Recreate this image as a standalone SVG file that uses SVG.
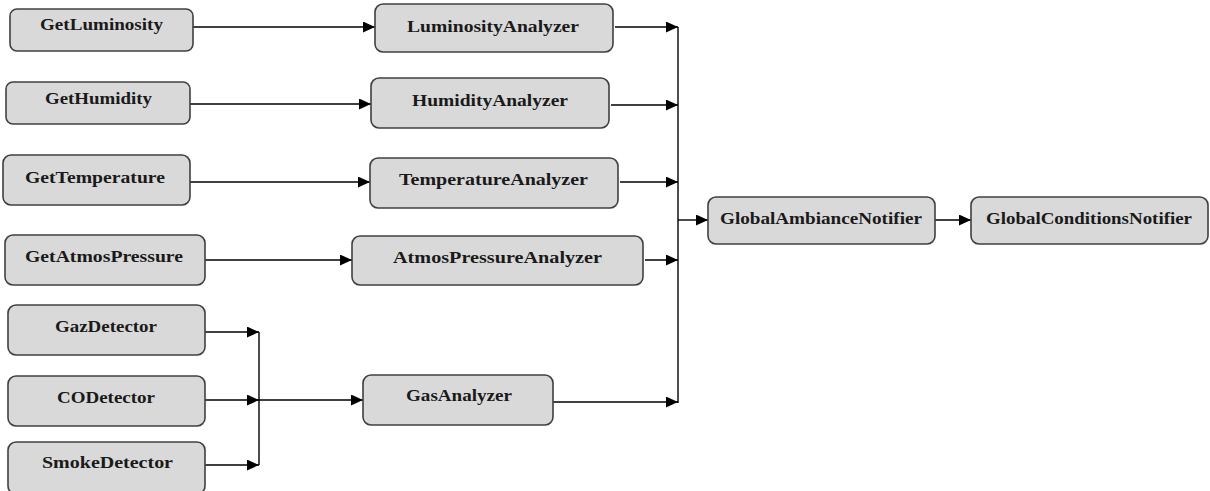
<svg xmlns="http://www.w3.org/2000/svg" width="1210" height="491" viewBox="0 0 1210 491">
<style>
.box{fill:#d9d9d9;stroke:#404040;stroke-width:1.6}
.lbl{font-family:"Liberation Serif","Times New Roman",serif;font-weight:bold;font-size:16.5px;fill:#1a1a1a}
.ln{fill:none;stroke:#000;stroke-width:1.4}
</style>
<defs>
<marker id="ah" markerUnits="userSpaceOnUse" markerWidth="12" markerHeight="11" refX="12" refY="5.5" orient="auto">
<path d="M0,0 L12,5.5 L0,11 z" fill="#000"/>
</marker>
</defs>
<rect width="1210" height="491" fill="#fff"/>
<g id="connectors">
<line class="ln" x1="193" y1="27" x2="375" y2="27" marker-end="url(#ah)"/>
<line class="ln" x1="190" y1="104" x2="371" y2="104" marker-end="url(#ah)"/>
<line class="ln" x1="190" y1="182" x2="370" y2="182" marker-end="url(#ah)"/>
<line class="ln" x1="205" y1="260" x2="352" y2="260" marker-end="url(#ah)"/>
<line class="ln" x1="615" y1="27" x2="678" y2="27" marker-end="url(#ah)"/>
<line class="ln" x1="611" y1="105" x2="678" y2="105" marker-end="url(#ah)"/>
<line class="ln" x1="620" y1="182" x2="678" y2="182" marker-end="url(#ah)"/>
<line class="ln" x1="645" y1="260" x2="678" y2="260" marker-end="url(#ah)"/>
<line class="ln" x1="678" y1="27" x2="678" y2="403"/>
<line class="ln" x1="678" y1="220" x2="708" y2="220" marker-end="url(#ah)"/>
<line class="ln" x1="935" y1="220" x2="971" y2="220" marker-end="url(#ah)"/>
<line class="ln" x1="205" y1="332" x2="259" y2="332" marker-end="url(#ah)"/>
<line class="ln" x1="205" y1="400" x2="259" y2="400" marker-end="url(#ah)"/>
<line class="ln" x1="205" y1="465" x2="259" y2="465" marker-end="url(#ah)"/>
<line class="ln" x1="259" y1="332" x2="259" y2="465"/>
<line class="ln" x1="259" y1="400" x2="363" y2="400" marker-end="url(#ah)"/>
<line class="ln" x1="553" y1="402" x2="678" y2="402" marker-end="url(#ah)"/>
</g>
<g id="GetLuminosity"><rect class="box" x="10" y="9" width="183" height="42" rx="7"/><text class="lbl" x="40" y="30" textLength="123" lengthAdjust="spacingAndGlyphs">GetLuminosity</text></g>
<g id="GetHumidity"><rect class="box" x="6" y="82" width="184" height="42" rx="7"/><text class="lbl" x="45" y="104" textLength="107" lengthAdjust="spacingAndGlyphs">GetHumidity</text></g>
<g id="GetTemperature"><rect class="box" x="3" y="155" width="187" height="50" rx="8"/><text class="lbl" x="25" y="183" textLength="140" lengthAdjust="spacingAndGlyphs">GetTemperature</text></g>
<g id="GetAtmosPressure"><rect class="box" x="5" y="235" width="200" height="50" rx="8"/><text class="lbl" x="25" y="262" textLength="158" lengthAdjust="spacingAndGlyphs">GetAtmosPressure</text></g>
<g id="LuminosityAnalyzer"><rect class="box" x="375" y="4" width="238" height="48" rx="8"/><text class="lbl" x="407" y="32" textLength="172" lengthAdjust="spacingAndGlyphs">LuminosityAnalyzer</text></g>
<g id="HumidityAnalyzer"><rect class="box" x="371" y="78" width="238" height="50" rx="8"/><text class="lbl" x="412" y="106" textLength="156" lengthAdjust="spacingAndGlyphs">HumidityAnalyzer</text></g>
<g id="TemperatureAnalyzer"><rect class="box" x="370" y="158" width="248" height="50" rx="8"/><text class="lbl" x="399" y="185" textLength="189" lengthAdjust="spacingAndGlyphs">TemperatureAnalyzer</text></g>
<g id="AtmosPressureAnalyzer"><rect class="box" x="352" y="236" width="291" height="49" rx="8"/><text class="lbl" x="393" y="263" textLength="209" lengthAdjust="spacingAndGlyphs">AtmosPressureAnalyzer</text></g>
<g id="GlobalAmbianceNotifier"><rect class="box" x="708" y="197" width="227" height="47" rx="8"/><text class="lbl" x="720" y="224" textLength="202" lengthAdjust="spacingAndGlyphs">GlobalAmbianceNotifier</text></g>
<g id="GlobalConditionsNotifier"><rect class="box" x="971" y="197" width="237" height="47" rx="8"/><text class="lbl" x="986" y="224" textLength="206" lengthAdjust="spacingAndGlyphs">GlobalConditionsNotifier</text></g>
<g id="GazDetector"><rect class="box" x="8" y="305" width="197" height="50" rx="8"/><text class="lbl" x="55" y="332" textLength="102" lengthAdjust="spacingAndGlyphs">GazDetector</text></g>
<g id="CODetector"><rect class="box" x="8" y="376" width="197" height="50" rx="8"/><text class="lbl" x="57" y="403" textLength="98" lengthAdjust="spacingAndGlyphs">CODetector</text></g>
<g id="SmokeDetector"><rect class="box" x="8" y="442" width="197" height="52" rx="8"/><text class="lbl" x="42" y="468" textLength="131" lengthAdjust="spacingAndGlyphs">SmokeDetector</text></g>
<g id="GasAnalyzer"><rect class="box" x="363" y="375" width="190" height="50" rx="8"/><text class="lbl" x="406" y="401" textLength="106" lengthAdjust="spacingAndGlyphs">GasAnalyzer</text></g>
</svg>
